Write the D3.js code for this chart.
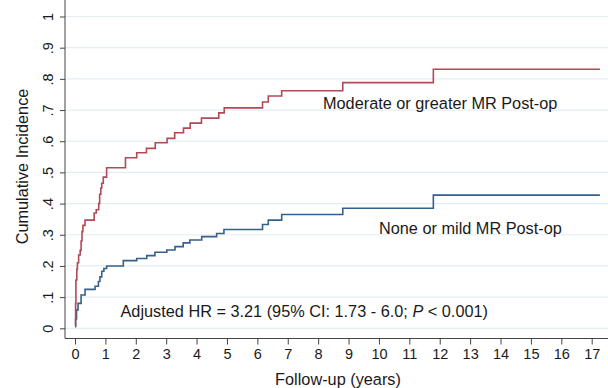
<!DOCTYPE html>
<html>
<head>
<meta charset="utf-8">
<script src="https://cdn.jsdelivr.net/npm/d3@7"></script>
<style>
  body { margin: 0; background: #fff; }
  svg { display: block; font-family: Arial, "Liberation Sans", sans-serif; }
</style>
</head>
<body>
<div id="chart"></div>
<script>
// Kaplan-Meier style cumulative incidence
const modTimes = [0, 0.02, 0.03, 0.06, 0.08, 0.12, 0.17, 0.2, 0.23, 0.26, 0.33, 0.63, 0.7, 0.78, 0.81, 0.85, 0.88, 0.93, 1.04,
                  1.66, 2.03, 2.35, 2.64, 3.03, 3.28, 3.57, 3.79, 4.16, 4.73, 4.91, 6.17, 6.36, 6.8, 8.81, 11.79, 17.27];
const modValues = [0.01, 0.08, 0.155, 0.19, 0.21, 0.235, 0.25, 0.28, 0.31, 0.33, 0.347, 0.37, 0.38, 0.40, 0.43, 0.45, 0.465, 0.485, 0.515,
                   0.547, 0.563, 0.577, 0.595, 0.609, 0.627, 0.642, 0.658, 0.674, 0.691, 0.707, 0.726, 0.745, 0.762, 0.788, 0.831, 0.831];

const mildTimes = [0, 0.02, 0.05, 0.1, 0.2, 0.33, 0.66, 0.77, 0.82, 0.88, 0.95, 1.04,
                   1.59, 2.03, 2.36, 2.63, 3.02, 3.29, 3.56, 3.78, 4.17, 4.66, 4.9, 6.17, 6.36, 6.8, 8.81, 11.79, 17.27];
const mildValues = [0.005, 0.03, 0.059, 0.08, 0.107, 0.125, 0.135, 0.15, 0.165, 0.183, 0.192, 0.20,
                    0.217, 0.224, 0.233, 0.244, 0.251, 0.262, 0.274, 0.283, 0.294, 0.304, 0.317, 0.333, 0.347, 0.365, 0.385, 0.427, 0.427];

const xTicks = d3.range(0, 18);
const yTicks = d3.range(0, 11).map(d => d / 10);

const width = 608, height = 388;
const margin = { top: 16.5, right: 0, bottom: 50, left: 65 };
const labelSize = "16.3px";

const svg = d3.select("#chart").append("svg")
    .attr("width", width)
    .attr("height", height);

// scales (0 -> x=75, 17 -> x=591.7)
const x = d3.scaleLinear().domain([0, 17]).range([75, 591.7]);
const y = d3.scaleLinear().domain([0, 1]).range([328.3, 16.5]);

// gridlines
svg.append("g")
    .selectAll("line")
    .data(yTicks)
    .enter()
    .append("line")
      .attr("x1", margin.left)
      .attr("x2", width)
      .attr("y1", d => y(d))
      .attr("y2", d => y(d))
      .style("stroke", "#e4eef2")
      .style("stroke-width", 1.2);

// Y axis
const fmtY = d => d === 0 ? "0" : d === 1 ? "1" : d3.format(".1f")(d).replace(/^0/, "");
const yAxis = svg.append("g")
    .attr("transform", `translate(${margin.left},0)`)
    .call(d3.axisLeft(y).tickValues(yTicks).tickSize(5).tickSizeOuter(0).tickFormat(fmtY));
yAxis.select(".domain").attr("d", `M0,0V338.5`).style("stroke", "#444");
yAxis.selectAll(".tick line").style("stroke", "#444");
yAxis.selectAll(".tick text")
    .attr("x", null).attr("dy", null)
    .attr("transform", "translate(-12,0) rotate(-90)")
    .attr("text-anchor", "middle")
    .attr("dominant-baseline", "auto")
    .style("font-size", "14.5px")
    .style("fill", "#1a1a1a");

// X axis
const xAxis = svg.append("g")
    .attr("transform", `translate(0,338.5)`)
    .call(d3.axisBottom(x).tickValues(xTicks).tickSize(6).tickSizeOuter(0).tickFormat(d3.format("d")));
xAxis.select(".domain").attr("d", `M${margin.left},0H${width}`).style("stroke", "#444");
xAxis.selectAll(".tick line").style("stroke", "#444");
xAxis.selectAll(".tick text")
    .attr("y", 10)
    .style("font-size", "14.5px")
    .style("fill", "#1a1a1a");

// step curves
const line = d3.line()
    .x(d => x(d[0]))
    .y(d => y(d[1]))
    .curve(d3.curveStepAfter);

svg.append("path")
    .datum(d3.zip(mildTimes, mildValues))
    .attr("d", line)
    .style("fill", "none")
    .style("stroke", "#36608c")
    .style("stroke-width", 1.6);

svg.append("path")
    .datum(d3.zip(modTimes, modValues))
    .attr("d", line)
    .style("fill", "none")
    .style("stroke", "#b04a55")
    .style("stroke-width", 1.6);

// curve labels
svg.append("text")
    .attr("x", 323)
    .attr("y", 108.5)
    .style("font-size", labelSize)
    .style("fill", "#1a1a1a")
    .text("Moderate or greater MR Post-op");

svg.append("text")
    .attr("x", 379)
    .attr("y", 233.5)
    .style("font-size", labelSize)
    .style("fill", "#1a1a1a")
    .text("None or mild MR Post-op");

// hazard ratio
const hr = svg.append("text")
    .attr("x", 120.5)
    .attr("y", 317)
    .style("font-size", labelSize)
    .style("fill", "#1a1a1a");
hr.append("tspan").text("Adjusted HR = 3.21 (95% CI: 1.73 - 6.0; ");
hr.append("tspan").style("font-style", "italic").text("P");
hr.append("tspan").text(" < 0.001)");

// axis titles
svg.append("text")
    .attr("x", 338)
    .attr("y", 385)
    .attr("text-anchor", "middle")
    .style("font-size", labelSize)
    .style("fill", "#1a1a1a")
    .text("Follow-up (years)");

svg.append("text")
    .attr("transform", "translate(27.5,166.5) rotate(-90)")
    .attr("text-anchor", "middle")
    .style("font-size", labelSize)
    .style("fill", "#1a1a1a")
    .text("Cumulative Incidence");
</script>
</body>
</html>
